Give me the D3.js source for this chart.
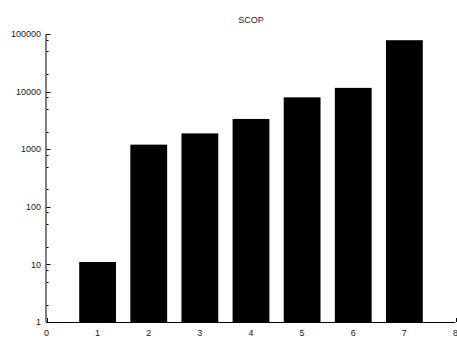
<!DOCTYPE html>
<html>
<head>
<meta charset="utf-8">
<script src="https://cdn.jsdelivr.net/npm/d3@7"></script>
<style>
  html, body { margin: 0; padding: 0; background: #fff; }
  svg { display: block; }
  text { font-family: "Liberation Sans", Arial, sans-serif; }
</style>
</head>
<body>
<div id="chart"></div>
<script>
// Category positions and counts per bin
const categories = [0, 1, 2, 3, 4, 5, 6, 7];
const counts = [1, 11, 1200, 1880, 3350, 7950, 11600, 78000];
const xTicks = [0, 1, 2, 3, 4, 5, 6, 7, 8];
const yMajorTicks = [1, 10, 100, 1000, 10000, 100000];
const chartTitle = "SCOP";

const W = 457, H = 338;
const margin = { left: 46, right: 2, top: 34, bottom: 16 };

const svg = d3.select("#chart").append("svg")
  .attr("width", W).attr("height", H);

const x = d3.scaleLinear().domain([0, 8]).range([46.5, 455.5]);
const y = d3.scaleLog().domain([1, 100000]).range([322, 34]);

const barWidth = 0.72;
const clip = svg.append("clipPath").attr("id", "plot")
  .append("rect").attr("x", x(0)).attr("y", 0).attr("width", x(8) - x(0)).attr("height", H);

// bars
svg.append("g").attr("clip-path", "url(#plot)")
  .selectAll("rect").data(categories).join("rect")
  .attr("x", d => x(d - barWidth / 2))
  .attr("width", d => x(d + barWidth / 2) - x(d - barWidth / 2))
  .attr("y", (d, i) => y(counts[i]))
  .attr("height", (d, i) => y(1) - y(counts[i]))
  .attr("fill", "#000");

// minor log ticks at 2, 5, 8 within each decade
const yMinor = [];
for (let e = 0; e < 5; e++) [2, 5, 8].forEach(m => yMinor.push(m * Math.pow(10, e)));

const axes = svg.append("g");
axes.append("line")
  .attr("x1", x(0) - 0.5).attr("x2", x(0) - 0.5)
  .attr("y1", y(100000)).attr("y2", y(1))
  .attr("stroke", "#000").attr("stroke-width", 1);
axes.append("line")
  .attr("x1", x(0) - 0.5).attr("x2", x(8))
  .attr("y1", y(1) + 0.5).attr("y2", y(1) + 0.5)
  .attr("stroke", "#000").attr("stroke-width", 1);

axes.selectAll(".ymaj").data(yMajorTicks).join("line")
  .attr("x1", x(0)).attr("x2", x(0) + 4)
  .attr("y1", d => Math.round(y(d)) + 0.5).attr("y2", d => Math.round(y(d)) + 0.5)
  .attr("stroke", "#000");
axes.selectAll(".ymin").data(yMinor).join("line")
  .attr("x1", x(0)).attr("x2", x(0) + 2)
  .attr("y1", d => Math.round(y(d)) + 0.5).attr("y2", d => Math.round(y(d)) + 0.5)
  .attr("stroke", "#000");
axes.selectAll(".xt").data(xTicks).join("line")
  .attr("x1", d => Math.round(x(d)) + 0.5).attr("x2", d => Math.round(x(d)) + 0.5)
  .attr("y1", y(1)).attr("y2", y(1) - 4)
  .attr("stroke", "#000");

// tick labels
svg.append("g").selectAll("text").data(yMajorTicks).join("text")
  .attr("x", 41).attr("y", d => y(d))
  .attr("dy", "0.35em")
  .attr("text-anchor", "end")
  .attr("font-size", 9).attr("fill", "#222")
  .text(d => d3.format("d")(d));

svg.append("g").selectAll("text").data(xTicks).join("text")
  .attr("x", d => x(d)).attr("y", 333)
  .attr("dy", "0.35em")
  .attr("text-anchor", "middle")
  .attr("font-size", 9).attr("fill", "#222")
  .text(d => d);

svg.append("text")
  .attr("x", (x(0) + x(8)) / 2).attr("y", 20)
  .attr("dy", "0.35em")
  .attr("text-anchor", "middle")
  .attr("font-size", 9).attr("fill", "#222")
  .text(chartTitle);
</script>
</body>
</html>
